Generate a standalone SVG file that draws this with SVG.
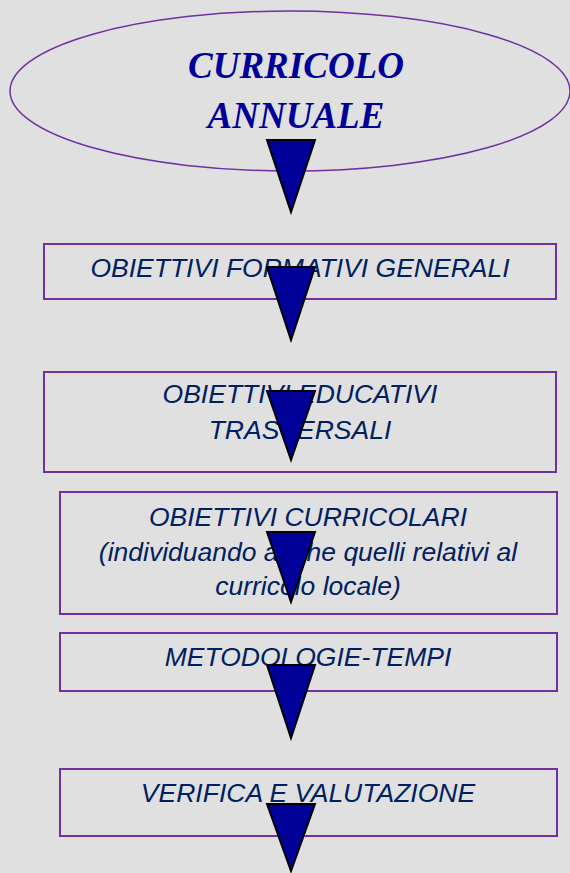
<svg xmlns="http://www.w3.org/2000/svg" width="570" height="873" viewBox="0 0 570 873">
  <style>
    .bg { fill: #e0e0e0; }
    .box { fill: none; stroke: #7030a0; stroke-width: 2; }
    .oval { fill: none; stroke: #7030a0; stroke-width: 1.5; }
    .title { font-family: "Liberation Serif", "Times New Roman", serif; font-size: 37px; font-weight: bold; font-style: italic; fill: #000099; text-anchor: middle; }
    .lbl { font-family: "Liberation Sans", Arial, sans-serif; font-size: 26.5px; font-style: italic; fill: #002060; text-anchor: middle; }
    .arrow { fill: #000099; stroke: #000000; stroke-width: 2; stroke-linejoin: miter; }
  </style>
  <rect class="bg" x="0" y="0" width="570" height="873"/>

  <g id="curricolo">
    <ellipse class="oval" cx="290" cy="91" rx="280" ry="80"/>
    <text class="title" x="296" y="78">CURRICOLO</text>
    <text class="title" x="296" y="128">ANNUALE</text>
  </g>

  <g id="obiettivi-formativi">
    <rect class="box" x="44" y="244" width="512" height="55"/>
    <text class="lbl" x="300" y="277">OBIETTIVI FORMATIVI GENERALI</text>
  </g>

  <g id="obiettivi-educativi">
    <rect class="box" x="44" y="372" width="512" height="100"/>
    <text class="lbl" x="300" y="403">OBIETTIVI EDUCATIVI</text>
    <text class="lbl" x="300" y="439">TRASVERSALI</text>
  </g>

  <g id="obiettivi-curricolari">
    <rect class="box" x="60" y="492" width="497" height="122"/>
    <text class="lbl" x="308" y="526">OBIETTIVI CURRICOLARI</text>
    <text class="lbl" x="308" y="561">(individuando anche quelli relativi al</text>
    <text class="lbl" x="308" y="595">curricolo locale)</text>
  </g>

  <g id="metodologie">
    <rect class="box" x="60" y="633" width="497" height="58"/>
    <text class="lbl" x="308" y="666">METODOLOGIE-TEMPI</text>
  </g>

  <g id="verifica">
    <rect class="box" x="60" y="769" width="497" height="67"/>
    <text class="lbl" x="308" y="802">VERIFICA E VALUTAZIONE</text>
  </g>

  <g id="connectors">
    <polygon class="arrow" points="267,140 315,140 291,212"/>
    <polygon class="arrow" points="267,267 315,267 291,340"/>
    <polygon class="arrow" points="267,391 315,391 291,460"/>
    <polygon class="arrow" points="267,532 315,532 291,602"/>
    <polygon class="arrow" points="267,665 315,665 291,738"/>
    <polygon class="arrow" points="267,804 315,804 291,871"/>
  </g>
</svg>
